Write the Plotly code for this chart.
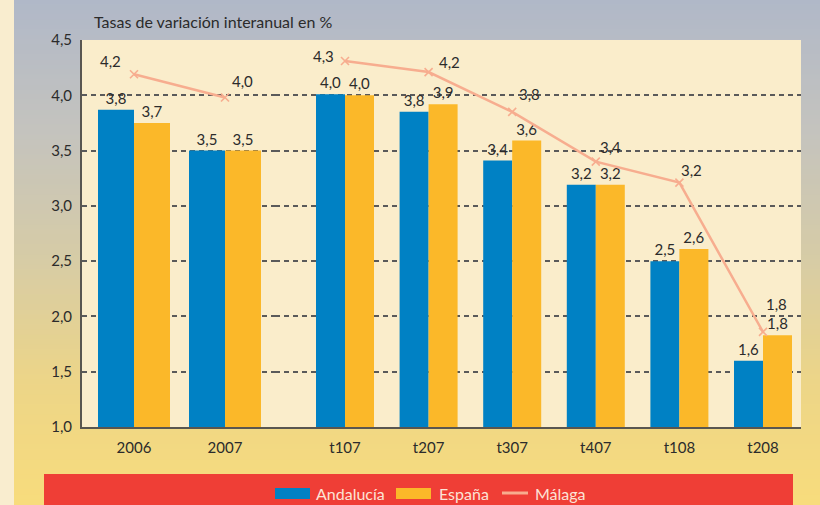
import plotly.graph_objects as go

# ---------------- data ----------------
years = ["2006", "2007"]
quarters = ["t107", "t207", "t307", "t407", "t108", "t208"]

andalucia_year = [3.87, 3.50]
espana_year = [3.75, 3.50]
malaga_year = [4.19, 3.98]

andalucia_q = [4.01, 3.85, 3.41, 3.19, 2.50, 1.60]
espana_q = [4.00, 3.92, 3.59, 3.19, 2.61, 1.83]
malaga_q = [4.31, 4.21, 3.85, 3.40, 3.21, 1.86]

andalucia_year_lbl = ["3,8", "3,5"]
espana_year_lbl = ["3,7", "3,5"]
malaga_year_lbl = ["4,2", "4,0"]
andalucia_q_lbl = ["4,0", "3,8", "3,4", "3,2", "2,5", "1,6"]
espana_q_lbl = ["4,0", "3,9", "3,6", "3,2", "2,6", "1,8"]
malaga_q_lbl = ["4,3", "4,2", "3,8", "3,4", "3,2", "1,8"]

y_ticks = [1.0, 1.5, 2.0, 2.5, 3.0, 3.5, 4.0, 4.5]

title_text = "Tasas de variación interanual en %"
legend_names = ["Andalucía", "España", "Málaga"]

# ---------------- style ----------------
W, H = 820, 505
ML, MR, MT, MB = 82, 19, 40, 78
PW, PH = W - ML - MR, H - MT - MB
FONT = "Lato"
TXT = "#2b2b2b"
BLUE = "#0081C4"
ORANGE = "#FBB829"
SALMON = "#F7AD8F"
CREAM = "#FAEDCB"
RED = "#EF3E36"
NUM_SIZE = 15
split = (275 - ML) / PW

# label offsets (px) of the Málaga labels relative to their markers
mal_year_off = [(-24, 13), (17, 17)]
mal_q_off = [(-22, 5), (21, 10), (17, 18), (15, 15), (12, 13), (13, 28)]


def px_x(px):
    return (px - ML) / PW


def px_y(py):
    return (MT + PH - py) / PH


grad_stops = [(0, (176, 184, 200)), (130, (196, 195, 190)), (250, (213, 203, 168)),
              (380, (236, 213, 136)), (505, (248, 220, 124))]


def grad_color(py):
    for (y0, c0), (y1, c1) in zip(grad_stops[:-1], grad_stops[1:]):
        if y0 <= py <= y1:
            t = (py - y0) / (y1 - y0)
            c = [round(a + (b - a) * t) for a, b in zip(c0, c1)]
            return "rgb(%d,%d,%d)" % tuple(c)
    return "rgb(%d,%d,%d)" % grad_stops[-1][1]


shapes = []
step = 5
for py in range(0, H, step):
    shapes.append(dict(type="rect", xref="paper", yref="paper", layer="below",
                       x0=px_x(14), x1=px_x(W + 2), y0=px_y(py + step + 0.5), y1=px_y(py - 0.5),
                       fillcolor=grad_color(py + step / 2), line=dict(width=0)))
shapes.append(dict(type="rect", xref="paper", yref="paper", layer="below",
                   x0=px_x(-2), x1=px_x(14), y0=px_y(H + 2), y1=px_y(-2),
                   fillcolor="#F9EDCF", line=dict(width=0)))
shapes.append(dict(type="rect", xref="paper", yref="paper", layer="below",
                   x0=0, x1=px_x(801), y0=0, y1=1,
                   fillcolor=CREAM, line=dict(width=0)))
# legend bar
shapes.append(dict(type="rect", xref="paper", yref="paper", layer="below",
                   x0=px_x(44), x1=px_x(793), y0=px_y(H + 2), y1=px_y(474),
                   fillcolor=RED, line=dict(width=0)))
shapes.append(dict(type="rect", xref="paper", yref="paper",
                   x0=px_x(275), x1=px_x(310), y0=px_y(499), y1=px_y(488),
                   fillcolor=BLUE, line=dict(width=0)))
shapes.append(dict(type="rect", xref="paper", yref="paper",
                   x0=px_x(396), x1=px_x(431), y0=px_y(499), y1=px_y(488),
                   fillcolor=ORANGE, line=dict(width=0)))
shapes.append(dict(type="line", xref="paper", yref="paper",
                   x0=px_x(502), x1=px_x(528), y0=px_y(493), y1=px_y(493),
                   line=dict(color=SALMON, width=3)))

annotations = [
    dict(text=title_text, xref="paper", yref="paper", x=px_x(92), y=px_y(21),
         xanchor="left", yanchor="middle", showarrow=False,
         font=dict(family=FONT, size=16, color=TXT)),
]
for name, lx in zip(legend_names, [314, 437, 533]):
    annotations.append(dict(text=name, xref="paper", yref="paper", x=px_x(lx), y=px_y(493),
                            xanchor="left", yanchor="middle", showarrow=False,
                            font=dict(family=FONT, size=16, color="#FCE3D6")))

lblfont = dict(family=FONT, size=NUM_SIZE, color=TXT)
for cats, vals, lbls, offs, xr, yr in [(years, malaga_year, malaga_year_lbl, mal_year_off, "x", "y"),
                                       (quarters, malaga_q, malaga_q_lbl, mal_q_off, "x2", "y2")]:
    for i, (v, t, (dx, dy)) in enumerate(zip(vals, lbls, offs)):
        annotations.append(dict(text=t, x=i, y=v, xref=xr, yref=yr, showarrow=False,
                                xanchor="center", yanchor="middle", xshift=dx, yshift=dy,
                                font=lblfont))

wy = 36 / 91
wq = 29 / 83.6

fig = go.Figure()
fig.add_trace(go.Bar(x=years, y=andalucia_year, text=andalucia_year_lbl, name=legend_names[0],
                     xaxis="x", yaxis="y", marker=dict(color=BLUE, line=dict(width=0)),
                     width=wy, offset=-wy, textposition="outside", textfont=lblfont,
                     constraintext="none", cliponaxis=False, showlegend=False))
fig.add_trace(go.Bar(x=years, y=espana_year, text=espana_year_lbl, name=legend_names[1],
                     xaxis="x", yaxis="y", marker=dict(color=ORANGE, line=dict(width=0)),
                     width=wy, offset=0, textposition="outside", textfont=lblfont,
                     constraintext="none", cliponaxis=False, showlegend=False))
fig.add_trace(go.Bar(x=quarters, y=andalucia_q, text=andalucia_q_lbl, name=legend_names[0],
                     xaxis="x2", yaxis="y2", marker=dict(color=BLUE, line=dict(width=0)),
                     width=wq, offset=-wq, textposition="outside", textfont=lblfont,
                     constraintext="none", cliponaxis=False, showlegend=False))
fig.add_trace(go.Bar(x=quarters, y=espana_q, text=espana_q_lbl, name=legend_names[1],
                     xaxis="x2", yaxis="y2", marker=dict(color=ORANGE, line=dict(width=0)),
                     width=wq, offset=0, textposition="outside", textfont=lblfont,
                     constraintext="none", cliponaxis=False, showlegend=False))

mk = dict(symbol="x-thin", size=8, line=dict(color=SALMON, width=1.6), color=SALMON)
fig.add_trace(go.Scatter(x=years, y=malaga_year, name=legend_names[2],
                         xaxis="x", yaxis="y", mode="lines+markers",
                         line=dict(color=SALMON, width=2.5), marker=mk,
                         cliponaxis=False, showlegend=False))
fig.add_trace(go.Scatter(x=quarters, y=malaga_q, name=legend_names[2],
                         xaxis="x2", yaxis="y2", mode="lines+markers",
                         line=dict(color=SALMON, width=2.5), marker=mk,
                         cliponaxis=False, showlegend=False))

common_x = dict(type="category", showline=True, linecolor="#595650", linewidth=2,
                showgrid=False, ticks="", tickfont=dict(family=FONT, size=NUM_SIZE, color=TXT),
                ticklabelstandoff=6, fixedrange=True)
grid_y = dict(range=[1, 4.5], tickvals=y_ticks, tickformat=".1f", showgrid=True,
              gridcolor="#5a5a5a", gridwidth=2, griddash="5px,4px", zeroline=False,
              fixedrange=True)

fig.update_layout(
    width=W, height=H, autosize=False,
    margin=dict(l=ML, r=MR, t=MT, b=MB),
    paper_bgcolor="#F9EDCF", plot_bgcolor="rgba(0,0,0,0)",
    separators=",.",
    barmode="overlay",
    font=dict(family=FONT, size=NUM_SIZE, color=TXT),
    xaxis=dict(domain=[0, split], range=[-52 / 91, 1 + 50 / 91], anchor="y", **common_x),
    xaxis2=dict(domain=[split, 1], range=[-70 / 83.6, 5 + 38 / 83.6], anchor="y2", **common_x),
    yaxis=dict(anchor="x", showline=True, linecolor="#595650", linewidth=2, ticks="",
               ticklabelstandoff=5, tickfont=dict(family=FONT, size=NUM_SIZE, color=TXT), **grid_y),
    yaxis2=dict(anchor="x2", matches="y", showline=False, showticklabels=False, **grid_y),
    shapes=shapes,
    annotations=annotations,
)

fig.write_html("out.html", config={"displayModeBar": False, "staticPlot": True},
               post_script="document.body.style.margin='0';document.body.style.overflow='hidden';")
